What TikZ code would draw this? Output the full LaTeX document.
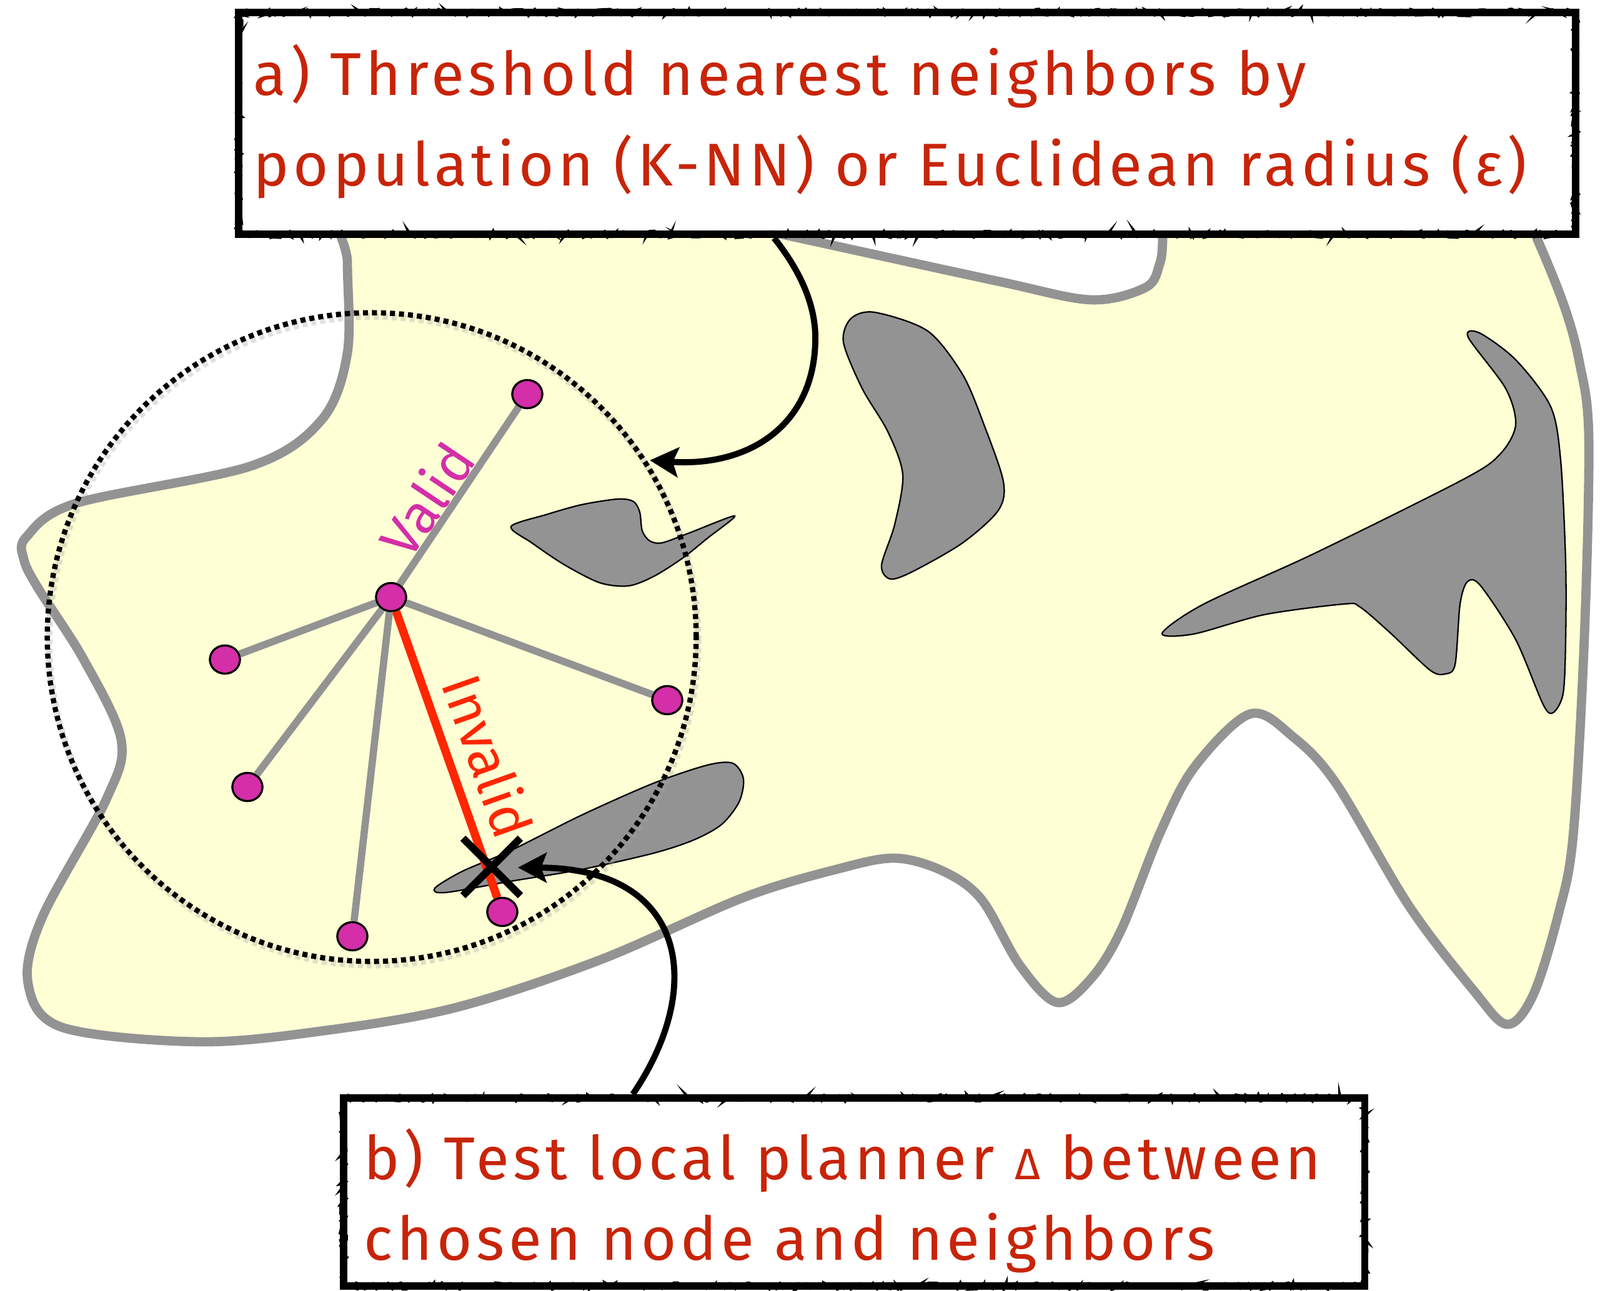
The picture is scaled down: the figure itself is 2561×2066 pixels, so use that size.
\documentclass[tikz,border=0pt]{standalone}
\usepackage{fontspec}
\setmainfont{Fira Sans}
\newfontfamily\handfont[LetterSpace=7]{Fira Sans}
\usetikzlibrary{arrows.meta, shapes.geometric, shapes.misc, decorations.pathmorphing, calc}
\definecolor{cspace}{RGB}{255,255,213}
\definecolor{cgray}{RGB}{147,147,147}
\definecolor{cmag}{RGB}{212,46,168}
\definecolor{cred}{RGB}{255,38,0}
\definecolor{ctext}{RGB}{200,36,8}
\begin{document}
\begin{tikzpicture}[x=0.01cm, y=-0.01cm,
  space/.style={fill=cspace, draw=cgray, line width=4.2pt, line join=round},
  obst/.style={fill=cgray, draw=black, line width=0.65pt},
  pnode/.style={ellipse, fill=cmag, draw=black, line width=0.9pt, minimum width=0.48cm, minimum height=0.45cm, inner sep=0pt},
  validedge/.style={draw=cgray, line width=3.3pt},
  invalidedge/.style={draw=cred, line width=3.8pt},
  radiuscircle/.style={draw=black, line width=2.4pt, dash pattern=on 2.3pt off 1.8pt},
  callout/.style={draw=black, line width=2.8pt, -{Stealth[length=13pt, width=13.5pt, inset=2.5pt]}},
  sketchbox/.style={rectangle, fill=white, draw=black, line width=3.4pt, inner sep=0pt,
    postaction={draw, decorate, decoration={random steps, segment length=1.4pt, amplitude=1.5pt}, line width=1.3pt}},
  boxtext/.style={font=\handfont\fontsize{27.5}{30}\selectfont, text=ctext, anchor=base west, inner sep=0pt},
  lbl/.style={font=\fontsize{25}{27}\selectfont, inner sep=4pt},
  xmark/.style={cross out, draw=black, line width=3.4pt, minimum size=0.8cm, inner sep=0pt}
]
\useasboundingbox (0,0) rectangle (2561,2066);

% free space
\draw[space] plot[smooth cycle, tension=0.55] coordinates {
 (556,300) (556,420) (556,565) (515,672) (402,746) (121,806) (42,860) (38,895) (60,940)
 (134,1056) (194,1185) (170,1280) (67,1470) (45,1575) (100,1645) (320,1668) (520,1650)
 (730,1613) (960,1537) (1190,1437) (1342,1391) (1433,1374) (1510,1395) (1571,1440)
 (1632,1545) (1692,1605) (1747,1566) (1795,1488) (1857,1333) (1912,1228) (2001,1143)
 (2070,1180) (2139,1255) (2255,1450) (2358,1585) (2412,1640) (2454,1593) (2494,1465)
 (2518,1338) (2536,1019) (2543,700) (2528,580) (2504,491) (2461,384) (2420,300)
 (1861,300) (1861,383) (1856,423) (1834,460) (1746,480) (1596,450) (1288,383) (1100,342) (900,300)};

% obstacles
\draw[obst] plot[smooth cycle, tension=0.5] coordinates {
 (818,843) (874,824) (931,808) (989,799) (1014,803) (1024,820) (1028,850) (1040,866)
 (1060,869) (1104,853) (1176,826) (1132,862) (1092,894) (1046,923) (1006,938) (960,933)
 (903,904) (851,869)};
\draw[obst] plot[smooth cycle, tension=0.5] coordinates {
 (696,1422) (740,1395) (817,1362) (931,1305) (1046,1254) (1132,1225) (1173,1222)
 (1190,1247) (1183,1284) (1155,1320) (1110,1345) (1046,1366) (931,1392) (817,1411) (713,1429)};
\draw[obst] plot[smooth cycle, tension=0.5] coordinates {
 (1400,500) (1485,530) (1541,600) (1575,680) (1606,771) (1598,817) (1541,869) (1461,915)
 (1425,927) (1411,905) (1432,840) (1445,760) (1421,691) (1380,622) (1350,548) (1362,510)};
\draw[obst] plot[smooth cycle, tension=0.5] coordinates {
 (2368,533) (2426,576) (2482,651) (2498,737) (2506,900) (2506,1024) (2502,1110) (2486,1141)
 (2470,1128) (2426,1024) (2370,938) (2349,931) (2337,967) (2329,1064) (2313,1079)
 (2289,1073) (2225,1013) (2177,972) (2152,967) (2024,984) (1911,1015) (1860,1014)
 (1927,967) (2104,886) (2345,766) (2402,726) (2426,680) (2410,622) (2350,540)};

% neighbourhood radius
\draw[radiuscircle, draw=black!35, opacity=0.35, line width=3pt] (598,1026) circle[radius=5.19cm];
\draw[radiuscircle] (595,1020) circle[radius=5.19cm];

% samples
\node[pnode] (c) at (626,956) {};
\node[pnode] (nt) at (844,631) {};
\node[pnode] (nl) at (360,1056) {};
\node[pnode] (nll) at (396,1260) {};
\node[pnode] (nb) at (564,1499) {};
\node[pnode] (nbr) at (804,1460) {};
\node[pnode] (nr) at (1068,1121) {};

\draw[validedge] (c) -- (nt) node[lbl, pos=0.40, sloped, above, text=cmag, inner sep=0pt] (lv) {Valid};
\draw[validedge] (c) -- (nl);
\draw[validedge] (c) -- (nll);
\draw[validedge] (c) -- (nb);
\draw[validedge] (c) -- (nr);
\draw[invalidedge] (c) -- (nbr) node[lbl, pos=0.55, sloped, above, text=cred, inner sep=6pt] (li) {Invalid};

\foreach \n in {c,nt,nl,nll,nb,nbr,nr} \node[pnode] at (\n) {};

\node[xmark] (xm) at (787,1388) {};

% callout boxes
\node[sketchbox, minimum width=21.38cm, minimum height=3.55cm] (boxa) at (1452,197.5) {};
\node[sketchbox, minimum width=16.34cm, minimum height=3.01cm] (boxb) at (1367,1908.5) {};

\node[boxtext] (ta1) at (405,152) {a) Threshold nearest neighbors by};
\node[boxtext] (ta2) at (405,297) {population (K-NN) or Euclidean radius (ε)};
\node[boxtext] (tb1) at (582,1888) {b) Test local planner {\fontsize{20}{24}\selectfont Δ} between};
\node[boxtext] (tb2) at (582,2017) {chosen node and neighbors};

% arrows
\coordinate (aend) at (1040,737);
\coordinate (bend) at (829,1389);
\draw[callout] ($(boxa.south west)!0.401!(boxa.south east)$) .. controls (1290,445) and (1306,500) .. (1305,545)
   .. controls (1303,680) and (1200,748) .. (aend);
\draw[callout] ($(boxb.north west)!0.285!(boxb.north east)$) .. controls (1130,1580) and (1100,1390) .. (bend);
\end{tikzpicture}
\end{document}
